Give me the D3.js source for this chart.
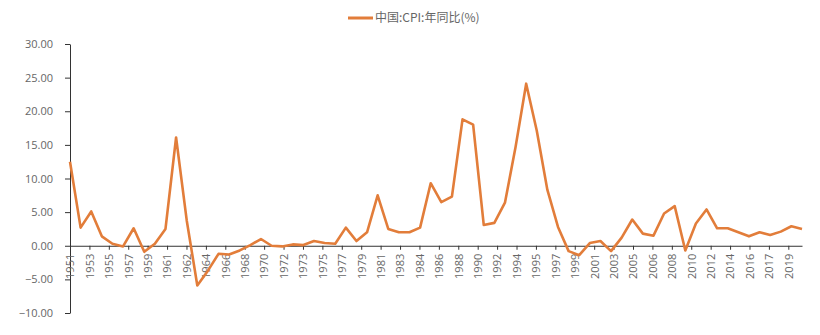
<!DOCTYPE html>
<html>
<head>
<meta charset="utf-8">
<script src="https://cdn.jsdelivr.net/npm/d3@7"></script>
<style>
  html, body { margin: 0; padding: 0; background: #fff; }
  svg { display: block; font-family: "Noto Sans CJK SC", "Noto Sans", sans-serif; }
</style>
</head>
<body>
<svg id="chart" width="820" height="335"></svg>
<script>
// China CPI, year-on-year change (%), 1951–2020
const years = [
  1951, 1952, 1953, 1954, 1955, 1956, 1957, 1958, 1959, 1960,
  1961, 1962, 1963, 1964, 1965, 1966, 1967, 1968, 1969, 1970,
  1971, 1972, 1973, 1974, 1975, 1976, 1977, 1978, 1979, 1980,
  1981, 1982, 1983, 1984, 1985, 1986, 1987, 1988, 1989, 1990,
  1991, 1992, 1993, 1994, 1995, 1996, 1997, 1998, 1999, 2000,
  2001, 2002, 2003, 2004, 2005, 2006, 2007, 2008, 2009, 2010,
  2011, 2012, 2013, 2014, 2015, 2016, 2017, 2018, 2019, 2020
];
const cpiYoY = [
  12.5, 2.7, 5.1, 1.4, 0.3, -0.1, 2.6, -0.9, 0.3, 2.5,
  16.1, 3.8, -5.9, -3.7, -1.2, -1.3, -0.7, 0.1, 1.0, 0.0,
  -0.1, 0.2, 0.1, 0.7, 0.4, 0.3, 2.7, 0.7, 2.0, 7.5,
  2.5, 2.0, 2.0, 2.7, 9.3, 6.5, 7.3, 18.8, 18.0, 3.1,
  3.4, 6.4, 14.7, 24.1, 17.1, 8.3, 2.8, -0.8, -1.4, 0.4,
  0.7, -0.8, 1.2, 3.9, 1.8, 1.5, 4.8, 5.9, -0.7, 3.3,
  5.4, 2.6, 2.6, 2.0, 1.4, 2.0, 1.6, 2.1, 2.9, 2.5
];
// Date-axis labels, one every 1.83 years starting at the first observation
const xTickLabels = [
  "1951", "1953", "1955", "1957", "1959", "1961", "1962", "1964", "1966", "1968",
  "1970", "1972", "1973", "1975", "1977", "1979", "1981", "1983", "1984", "1986",
  "1988", "1990", "1992", "1994", "1995", "1997", "1999", "2001", "2003", "2005",
  "2006", "2008", "2010", "2012", "2014", "2016", "2017", "2019"
];
const xTickStep = 1.83;
const yTicks = [-10, -5, 0, 5, 10, 15, 20, 25, 30];
const seriesName = "中国:CPI:年同比(%)";

const lineColor = "#E27D3A";
const textColor = "#666666";
const axisColor = "#333333";

const svg = d3.select("#chart");
const plot = { left: 70, right: 802, top: 44, bottom: 313 };

const x = d3.scaleLinear()
  .domain([d3.min(years), d3.max(years)])
  .range([plot.left, plot.right]);

const y = d3.scaleLinear()
  .domain([d3.min(yTicks), d3.max(yTicks)])
  .range([plot.bottom, plot.top]);

// Y axis
const yAxis = svg.append("g")
  .attr("transform", `translate(${plot.left},0)`)
  .call(d3.axisLeft(y)
    .tickValues(yTicks)
    .tickFormat(d3.format(".2f"))
    .tickSize(5)
    .tickSizeOuter(0)
    .tickPadding(12));
yAxis.select(".domain").attr("stroke", axisColor);
yAxis.selectAll(".tick line").attr("stroke", axisColor);
yAxis.selectAll("text")
  .attr("fill", textColor)
  .style("font-family", "'Open Sans', 'Noto Sans', sans-serif")
  .style("font-size", "11px");

// X axis at zero
const xTickValues = xTickLabels.map((_, i) => years[0] + i * xTickStep);
const xAxis = svg.append("g")
  .attr("transform", `translate(0,${y(0)})`)
  .call(d3.axisBottom(x)
    .tickValues(xTickValues)
    .tickFormat((d, i) => xTickLabels[i])
    .tickSize(4)
    .tickSizeOuter(0));
xAxis.select(".domain").attr("stroke", axisColor);
xAxis.selectAll(".tick line").attr("stroke", axisColor);
xAxis.selectAll("text")
  .attr("fill", textColor)
  .style("font-family", "'Open Sans', 'Noto Sans', sans-serif")
  .style("font-size", "11px")
  .attr("transform", "rotate(-90)")
  .attr("x", -8)
  .attr("y", 0)
  .attr("dy", "0.35em")
  .style("text-anchor", "end");

// CPI line
const line = d3.line()
  .x((d, i) => x(years[i]))
  .y(d => y(d));

svg.append("path")
  .datum(cpiYoY)
  .attr("fill", "none")
  .attr("stroke", lineColor)
  .attr("stroke-width", 2.6)
  .attr("stroke-linejoin", "round")
  .attr("d", line);

// Legend
const legend = svg.append("g").attr("transform", "translate(348,18)");
legend.append("line")
  .attr("x1", 0).attr("x2", 25)
  .attr("y1", 0).attr("y2", 0)
  .attr("stroke", lineColor)
  .attr("stroke-width", 3);
legend.append("text")
  .attr("x", 27)
  .attr("y", 0)
  .attr("dy", "0.36em")
  .attr("fill", textColor)
  .style("font-size", "12px")
  .text(seriesName);
</script>
</body>
</html>
